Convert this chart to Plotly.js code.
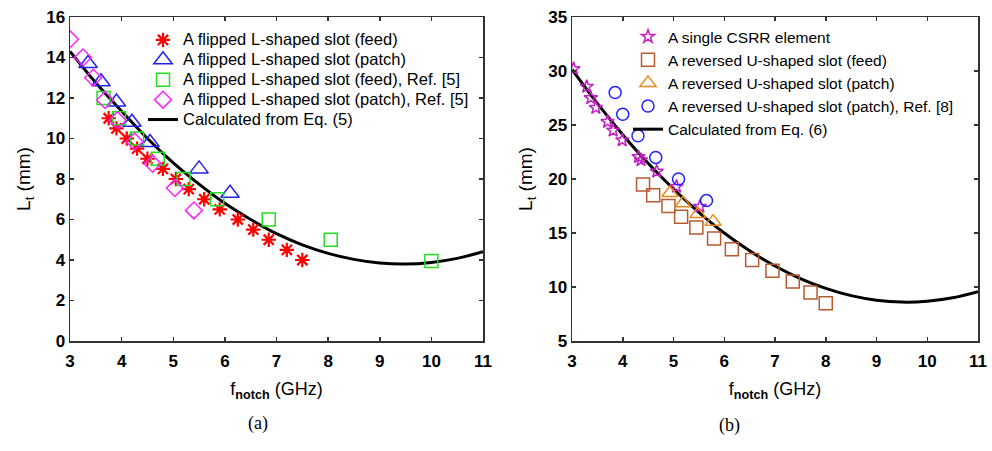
<!DOCTYPE html>
<html>
<head>
<meta charset="utf-8">
<script src="https://cdn.plot.ly/plotly-3.0.1.min.js"></script>
<style>
html,body{margin:0;padding:0;background:#fff;}
#chart{width:992px;height:451px;}
#chart g.legend text.legendtext{font-size:16.5px !important;}
#chart g.scrollbox{clip-path:none !important;}
</style>
</head>
<body>
<div id="chart"></div>
<script>
// ---- Panel (a) data ----
const aFeedX = [3.75, 3.9, 4.1, 4.3, 4.5, 4.8, 5.05, 5.3, 5.6, 5.9, 6.25, 6.55, 6.85, 7.2, 7.5];
const aFeedY = [11, 10.5, 10, 9.5, 9, 8.5, 8, 7.5, 7, 6.5, 6, 5.5, 5, 4.5, 4];
const aPatchX = [3.35, 3.6, 3.9, 4.2, 4.55, 5.5, 6.1];
const aPatchY = [13.7, 12.8, 11.8, 10.8, 9.8, 8.5, 7.3];
const aRefFeedX = [3.65, 3.95, 4.3, 4.7, 5.2, 5.85, 6.85, 8.05, 10.0];
const aRefFeedY = [12, 11, 10, 9, 8, 7, 6, 5, 3.95];
const aRefPatchX = [3.0, 3.25, 3.45, 3.68, 3.92, 4.25, 4.6, 5.03, 5.4];
const aRefPatchY = [14.9, 14.0, 13.0, 11.9, 10.9, 9.85, 8.75, 7.55, 6.45];
const aCalcX = [3, 3.5, 4, 4.5, 5, 5.5, 6, 6.5, 7, 7.5, 8, 8.5, 9, 9.5, 10, 10.5, 11];
const aCalcY = [14.3, 12.75, 11.35, 10.0, 8.8, 7.75, 6.8, 6.0, 5.3, 4.75, 4.33, 4.03, 3.85, 3.8, 3.88, 4.08, 4.41];

// ---- Panel (b) data ----
const bCsrrX = [3.03, 3.29, 3.37, 3.47, 3.7, 3.81, 3.99, 4.31, 4.36, 4.67, 5.06, 5.52];
const bCsrrY = [30.2, 28.55, 27.5, 26.6, 25.3, 24.5, 23.6, 22.05, 21.75, 20.7, 19.3, 17.45];
const bFeedX = [4.4, 4.6, 4.9, 5.15, 5.45, 5.8, 6.15, 6.55, 6.95, 7.35, 7.7, 8.0];
const bFeedY = [19.5, 18.5, 17.5, 16.5, 15.5, 14.5, 13.5, 12.5, 11.5, 10.5, 9.5, 8.5];
const bPatchX = [4.93, 5.19, 5.48, 5.78];
const bPatchY = [18.7, 17.75, 16.75, 16.05];
const bRefX = [3.85, 4.0, 4.3, 4.65, 5.1, 5.65];
const bRefY = [28, 26, 24, 22, 20, 18];
const bCalcX = [3, 3.5, 4, 4.5, 5, 5.5, 6, 6.5, 7, 7.5, 8, 8.5, 9, 9.5, 10, 10.5, 11];
const bCalcY = [30.15, 27.0, 24.1, 21.45, 19.07, 16.92, 15.0, 13.35, 11.94, 10.78, 9.87, 9.2, 8.78, 8.6, 8.68, 9.0, 9.57];

const xTicks = [3, 4, 5, 6, 7, 8, 9, 10, 11];
const aYTicks = [0, 2, 4, 6, 8, 10, 12, 14, 16];
const bYTicks = [5, 10, 15, 20, 25, 30, 35];

const namesA = ['A flipped L-shaped slot (feed)', 'A flipped L-shaped slot (patch)',
  'A flipped L-shaped slot (feed), Ref. [5]', 'A flipped L-shaped slot (patch), Ref. [5]', 'Calculated from Eq. (5)'];
const namesB = ['A single CSRR element', 'A reversed U-shaped slot (feed)', 'A reversed U-shaped slot (patch)',
  'A reversed U-shaped slot (patch), Ref. [8]', 'Calculated from Eq. (6)'];

const FONT = 'Arial, "Liberation Sans", sans-serif';

function mk(x, y, name, sym, color, size, lw, xa, ya, leg) {
  return {x: x, y: y, name: name, type: 'scatter', mode: 'markers', xaxis: xa, yaxis: ya, legend: leg,
    marker: {symbol: sym, size: size, color: color, line: {color: color, width: lw}}};
}
function ln(x, y, name, xa, ya, leg) {
  return {x: x, y: y, name: name, type: 'scatter', mode: 'lines', xaxis: xa, yaxis: ya, legend: leg,
    line: {color: '#000', width: 3, shape: 'spline'}};
}

const data = [
  ln(aCalcX, aCalcY, namesA[4], 'x', 'y', 'legend'),
  mk(aFeedX, aFeedY, namesA[0], 'asterisk-open', '#ff0000', 12, 2.2, 'x', 'y', 'legend'),
  mk(aPatchX, aPatchY, namesA[1], 'triangle-up-open', '#2222ee', 16, 1.5, 'x', 'y', 'legend'),
  mk(aRefFeedX, aRefFeedY, namesA[2], 'square-open', '#22dd22', 13, 1.5, 'x', 'y', 'legend'),
  mk(aRefPatchX, aRefPatchY, namesA[3], 'diamond-open', '#ff22ff', 13, 1.5, 'x', 'y', 'legend'),
  ln(bCalcX, bCalcY, namesB[4], 'x2', 'y2', 'legend2'),
  mk(bCsrrX, bCsrrY, namesB[0], 'star-open', '#c020c0', 10, 1.5, 'x2', 'y2', 'legend2'),
  mk(bFeedX, bFeedY, namesB[1], 'square-open', '#b85a30', 13, 1.5, 'x2', 'y2', 'legend2'),
  mk(bPatchX, bPatchY, namesB[2], 'triangle-up-open', '#e8891a', 14, 1.5, 'x2', 'y2', 'legend2'),
  mk(bRefX, bRefY, namesB[3], 'circle-open', '#2222ff', 12, 1.5, 'x2', 'y2', 'legend2')
];
const legendRank = [5, 1, 2, 3, 4, 5, 1, 2, 3, 4];
data.forEach((t, i) => t.legendrank = legendRank[i]);

const axBase = {
  showgrid: false, zeroline: false, showline: true, linecolor: '#333', linewidth: 1.5,
  mirror: 'ticks', ticks: 'inside', ticklen: 4, tickcolor: '#333', tickwidth: 1.5,
  tickfont: {family: FONT, size: 17, color: '#000', weight: 'bold'}
};
const W = 992, H = 451;
const yTopFrac = 1 - 17 / H, yBotFrac = 1 - 341 / H;

const layout = {
  width: W, height: H, margin: {l: 0, r: 0, t: 0, b: 0},
  paper_bgcolor: '#fff', plot_bgcolor: '#fff',
  font: {family: FONT, color: '#000'},
  xaxis: Object.assign({}, axBase, {domain: [70 / W, 483 / W], range: [3, 11], tickvals: xTicks, anchor: 'y',
    ticklabelstandoff: 4,
    title: {text: 'f<sub><b>notch</b></sub> (GHz)', font: {family: FONT, size: 18}, standoff: 12}}),
  yaxis: Object.assign({}, axBase, {domain: [yBotFrac, yTopFrac], range: [0, 16], tickvals: aYTicks, anchor: 'x',
    title: {text: 'L<sub>t</sub> (mm)', font: {family: FONT, size: 19}, standoff: 10}}),
  xaxis2: Object.assign({}, axBase, {domain: [572 / W, 978 / W], range: [3, 11], tickvals: xTicks, anchor: 'y2',
    ticklabelstandoff: 4,
    title: {text: 'f<sub><b>notch</b></sub> (GHz)', font: {family: FONT, size: 18}, standoff: 12}}),
  yaxis2: Object.assign({}, axBase, {domain: [yBotFrac, yTopFrac], range: [5, 35], tickvals: bYTicks, anchor: 'x2',
    title: {text: 'L<sub>t</sub> (mm)', font: {family: FONT, size: 19}, standoff: 10}}),
  legend: {x: 143 / W, xanchor: 'left', y: 1 - 25 / H, yanchor: 'top', bgcolor: 'rgba(0,0,0,0)',
    font: {family: FONT, size: 13, color: '#000'}, tracegroupgap: 0, borderwidth: 0},
  legend2: {x: 628 / W, xanchor: 'left', y: 1 - 20 / H, yanchor: 'top', bgcolor: 'rgba(0,0,0,0)',
    font: {family: FONT, size: 15.5, color: '#000'}, tracegroupgap: 0, borderwidth: 0},
  showlegend: true,
  annotations: [
    {text: '(a)', x: 246 / W, y: 1 - 436 / H, xref: 'paper', yref: 'paper', showarrow: false,
      font: {family: '"Liberation Serif", "Times New Roman", serif', size: 18, color: '#000'}},
    {text: '(b)', x: 742 / W, y: 1 - 438 / H, xref: 'paper', yref: 'paper', showarrow: false,
      font: {family: '"Liberation Serif", "Times New Roman", serif', size: 18, color: '#000'}}
  ]
};

Plotly.newPlot('chart', data, layout, {displayModeBar: false, staticPlot: true});
</script>
</body>
</html>
